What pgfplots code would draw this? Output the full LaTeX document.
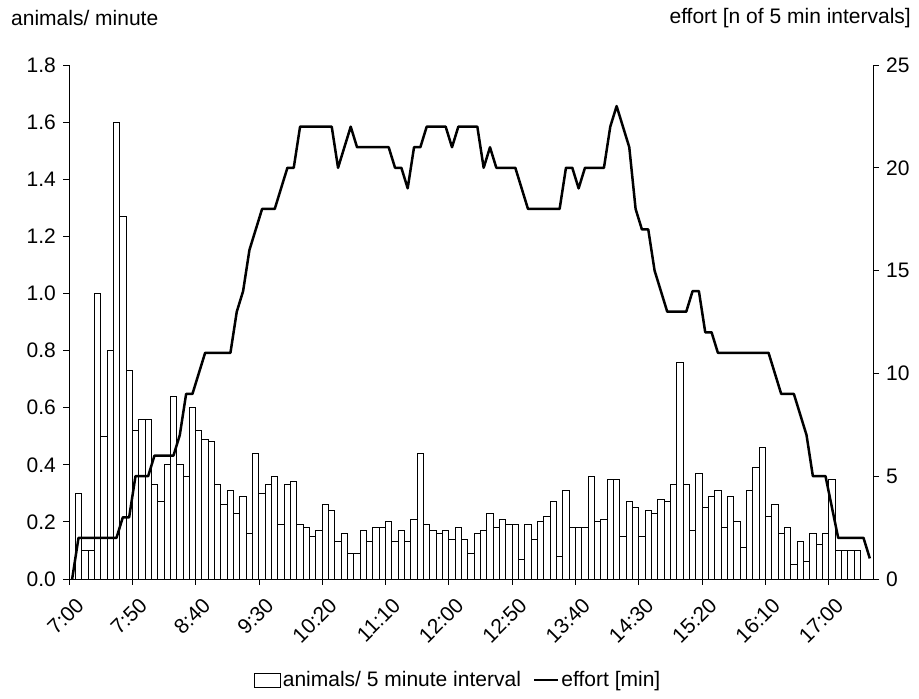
\documentclass[border=0pt]{standalone}
\usepackage{fontspec}
\setmainfont{Liberation Sans}
\usepackage{pgfplots}
\pgfplotsset{compat=1.18}
\begin{document}
\fontsize{21}{25}\selectfont
\begin{tikzpicture}[x=1pt,y=1pt]
\path[use as bounding box] (0,0) rectangle (919,699);
\node[anchor=west,inner sep=0pt] at (11,681) {animals/ minute};
\node[anchor=east,inner sep=0pt] at (911,681) {effort [n of 5 min intervals]};
\pgfplotsset{
  common/.style={
    at={(69pt,120pt)}, anchor=south west,
    scale only axis, width=804pt, height=514pt,
    xmin=-0.5, xmax=126.5,
    tick align=outside, major tick length=6pt,
    every tick/.style={black, line width=0.8pt},
    axis line style={black, line width=0.9pt},
    tick label style={font=\fontsize{21}{25}\selectfont},
    /pgf/number format/assume math mode=true,
  }
}
\begin{axis}[common,
  ymin=0, ymax=1.8,
  axis x line*=bottom, axis y line*=left,
  ytick={0,0.2,0.4,0.6,0.8,1.0,1.2,1.4,1.6,1.8},
  yticklabel style={/pgf/number format/.cd, fixed, fixed zerofill, precision=1},
  xtick={-0.5,9.5,19.5,29.5,39.5,49.5,59.5,69.5,79.5,89.5,99.5,109.5,119.5},
  xticklabels={7:00,7:50,8:40,9:30,10:20,11:10,12:00,12:50,13:40,14:30,15:20,16:10,17:00},
  xticklabel style={rotate=45, anchor=north east, xshift=-4pt, yshift=-12pt, inner sep=0pt},
  legend style={at={(0.484,-0.1965)}, anchor=center, draw=none, fill=none,
    legend columns=2, font=\fontsize{21}{25}\selectfont,
    /tikz/every even column/.append style={column sep=10pt}},
]
\addplot[ybar, bar width=1, fill=white, draw=black, line width=0.9pt,
  legend image code/.code={\draw[black,line width=0.9pt,fill=white] (0pt,-7pt) rectangle (26pt,7pt);}]
table {
x y
1 0.30
2 0.10
3 0.10
4 1.00
5 0.50
6 0.80
7 1.60
8 1.27
9 0.73
10 0.52
11 0.56
12 0.56
13 0.33
14 0.27
15 0.40
16 0.64
17 0.40
18 0.36
19 0.60
20 0.52
21 0.49
22 0.48
23 0.33
24 0.26
25 0.31
26 0.23
27 0.29
28 0.16
29 0.44
30 0.30
31 0.33
32 0.36
33 0.19
34 0.33
35 0.34
36 0.19
37 0.18
38 0.15
39 0.17
40 0.26
41 0.24
42 0.13
43 0.16
44 0.09
45 0.09
46 0.17
47 0.13
48 0.18
49 0.18
50 0.20
51 0.13
52 0.17
53 0.13
54 0.21
55 0.44
56 0.19
57 0.17
58 0.16
59 0.17
60 0.14
61 0.18
62 0.14
63 0.09
64 0.16
65 0.17
66 0.23
67 0.18
68 0.21
69 0.19
70 0.19
71 0.07
72 0.19
73 0.14
74 0.20
75 0.22
76 0.27
77 0.08
78 0.31
79 0.18
80 0.18
81 0.18
82 0.36
83 0.20
84 0.21
85 0.35
86 0.35
87 0.15
88 0.27
89 0.25
90 0.15
91 0.24
92 0.23
93 0.28
94 0.27
95 0.33
96 0.76
97 0.33
98 0.17
99 0.37
100 0.25
101 0.29
102 0.31
103 0.18
104 0.29
105 0.20
106 0.11
107 0.31
108 0.39
109 0.46
110 0.22
111 0.26
112 0.16
113 0.18
114 0.05
115 0.13
116 0.06
117 0.16
118 0.12
119 0.16
120 0.35
121 0.10
122 0.10
123 0.10
124 0.10
};
\addlegendentry{animals/ 5 minute interval}
\addlegendimage{legend image code/.code={\draw[black,line width=2.5pt] (0pt,0pt) -- (24pt,0pt);}}
\addlegendentry{effort [min]}
\end{axis}
\begin{axis}[common,
  ymin=0, ymax=25,
  axis x line=none, axis y line*=right,
  ytick={0,5,10,15,20,25},
  clip=false,
]
\addplot[black, line width=2.5pt, line join=round] table {
x y
0 0
1 2
2 2
3 2
4 2
5 2
6 2
7 2
8 3
9 3
10 5
11 5
12 5
13 6
14 6
15 6
16 6
17 7
18 9
19 9
20 10
21 11
22 11
23 11
24 11
25 11
26 13
27 14
28 16
29 17
30 18
31 18
32 18
33 19
34 20
35 20
36 22
37 22
38 22
39 22
40 22
41 22
42 20
43 21
44 22
45 21
46 21
47 21
48 21
49 21
50 21
51 20
52 20
53 19
54 21
55 21
56 22
57 22
58 22
59 22
60 21
61 22
62 22
63 22
64 22
65 20
66 21
67 20
68 20
69 20
70 20
71 19
72 18
73 18
74 18
75 18
76 18
77 18
78 20
79 20
80 19
81 20
82 20
83 20
84 20
85 22
86 23
87 22
88 21
89 18
90 17
91 17
92 15
93 14
94 13
95 13
96 13
97 13
98 14
99 14
100 12
101 12
102 11
103 11
104 11
105 11
106 11
107 11
108 11
109 11
110 11
111 10
112 9
113 9
114 9
115 8
116 7
117 5
118 5
119 5
120 3.5
121 2
122 2
123 2
124 2
125 2
126 1
};
\end{axis}
\end{tikzpicture}
\end{document}
